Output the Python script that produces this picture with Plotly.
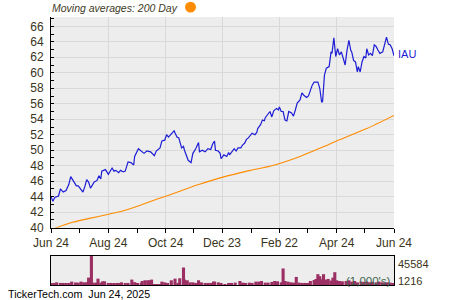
import pandas as pd
import plotly.graph_objects as go

START = pd.Timestamp("2024-06-24")

# ---- data ----
price_days = [0, 2, 4, 8, 10, 13, 16, 19, 21, 24, 27, 29, 32, 34, 36, 38, 40, 42, 44, 46,
              49, 51, 53, 54, 56, 58, 61, 63, 65, 67, 69, 72, 74, 77, 79, 82, 85, 88, 89, 93,
              96, 99, 102, 106, 110, 112, 116, 118, 121, 123, 125, 128, 131, 134, 136, 139, 141, 142, 144, 146,
              149, 151, 154, 157, 158, 161, 164, 167, 170, 172, 174, 175, 178, 180, 181, 184, 187, 189, 190, 193,
              195, 197, 199, 202, 204, 206, 208, 210, 212, 214, 217, 219, 220, 223, 225, 227, 228, 231, 233, 235,
              237, 240, 242, 243, 245, 247, 249, 251, 253, 256, 258, 260, 262, 265, 267, 269, 272, 274, 276, 278,
              280, 282, 284, 286, 288, 289, 291, 293, 296, 298, 299, 301, 303, 305, 307, 309, 312, 313, 315, 317,
              319, 320, 322, 324, 326, 327, 329, 331, 333, 335, 336, 338, 340, 342, 344, 346, 348, 350, 353, 355,
              357, 359, 361, 363, 365]
price = [44.0, 43.4, 43.9, 44.1, 45.0, 44.6, 44.8, 45.6, 46.6, 46.0, 45.4, 45.4, 44.9, 44.6, 45.3, 46.2, 45.9, 45.1, 45.5, 45.9,
         46.1, 46.7, 46.3, 47.3, 47.4, 47.5, 46.9, 47.3, 47.7, 47.3, 47.4, 47.1, 47.4, 47.2, 47.3, 48.5, 48.4, 48.1, 49.2, 50.2,
         49.9, 49.6, 49.9, 49.8, 49.3, 49.9, 50.3, 51.2, 51.3, 52.0, 51.7, 52.1, 52.5, 51.7, 51.6, 50.3, 50.5, 50.0, 49.4, 48.7,
         48.4, 49.6, 50.2, 51.0, 49.8, 50.0, 49.8, 50.2, 50.1, 50.8, 51.2, 50.0, 49.9, 49.6, 48.9, 49.4, 49.2, 49.7, 49.4, 49.9,
         50.2, 49.9, 50.3, 50.3, 50.7, 50.9, 51.4, 51.6, 51.9, 52.2, 52.0, 52.3, 52.8, 53.3, 53.9, 53.8, 54.2, 54.7, 55.0, 54.3,
         55.1, 55.4, 55.2, 55.6, 55.0, 55.0, 53.9, 53.8, 55.0, 54.8, 54.4, 55.2, 56.1, 56.5, 57.4, 57.1, 56.8, 57.0, 57.8, 58.4,
         58.8, 58.8, 58.8, 58.0, 56.2, 56.3, 59.7, 60.6, 60.8, 62.7, 62.5, 64.5, 62.1, 63.1, 62.3, 62.7, 61.2, 61.0, 62.9, 64.2,
         62.9, 62.7, 61.6, 61.4, 60.1, 60.8, 60.1, 61.4, 62.1, 61.9, 63.1, 62.3, 62.5, 62.2, 63.6, 63.4, 62.9, 62.5, 62.7, 63.8,
         64.6, 63.7, 63.6, 63.1, 62.2]

ma_days = [0, 6, 23, 41, 60, 77, 95, 113, 123, 148, 158, 182, 212, 235, 265, 291, 304, 336, 365]
ma_200 = [39.7, 40.0, 40.7, 41.2, 41.7, 42.2, 42.9, 43.7, 44.1, 45.2, 45.6, 46.5, 47.4, 48.0, 49.2, 50.5, 51.2, 52.8, 54.5]

vol_days = [0, 3, 6, 10, 13, 16, 19, 22, 26, 29, 32, 35, 38, 40, 41, 43, 45, 48, 50, 53,
            55, 57, 61, 64, 67, 70, 73, 75, 79, 82, 86, 89, 92, 96, 97, 100, 103, 105, 107, 110,
            113, 116, 118, 121, 124, 128, 132, 135, 137, 141, 142, 145, 148, 151, 154, 157, 160, 164, 167, 170,
            173, 174, 178, 181, 185, 189, 192, 196, 201, 204, 207, 211, 214, 218, 221, 224, 228, 231, 235, 238,
            241, 245, 247, 249, 252, 255, 258, 261, 264, 267, 270, 273, 276, 280, 282, 284, 286, 288, 290, 292,
            295, 298, 300, 302, 304, 307, 310, 314, 317, 320, 323, 326, 330, 333, 336, 339, 342, 346, 349, 352,
            355, 358, 361, 364]
volume_k = [2100, 2100, 4200, 3200, 3200, 2800, 3200, 5300, 4000, 3700, 5300, 4200, 4400, 11600, 10600, 45584, 3700, 3700, 10000, 3700,
            5800, 5800, 3200, 3200, 2100, 3200, 3200, 4200, 3200, 3200, 8500, 4500, 3200, 3200, 6300, 7400, 7400, 7400, 8500, 1100,
            1100, 1100, 5300, 4200, 2100, 7400, 10000, 3200, 10600, 27500, 8500, 7400, 4200, 4200, 3200, 7400, 4200, 3200, 3200, 3200,
            5300, 5300, 4200, 3200, 1500, 2100, 3200, 3700, 6300, 3700, 3200, 3700, 3200, 5300, 5300, 6300, 3700, 3700, 4800, 6300,
            5800, 4200, 26000, 6300, 5300, 4200, 3700, 12700, 3700, 3200, 3200, 2100, 6300, 7900, 9500, 17000, 13800, 9000, 17000, 8500,
            9500, 7000, 11600, 20100, 7400, 6300, 5800, 6300, 7400, 5300, 6300, 4200, 5300, 4800, 5300, 4200, 4800, 4200, 5300, 4200,
            3700, 4200, 3700, 2100]
vol_max_label = "45584"
vol_min_label = "1216"

tick_dates = ["2024-06-24", "2024-08-24", "2024-10-24", "2024-12-23", "2025-02-22", "2025-04-24", "2025-06-24"]
tick_labels = ["Jun 24", "Aug 24", "Oct 24", "Dec 23", "Feb 22", "Apr 24", "Jun 24"]
minor_dates = ["2024-07-24", "2024-09-24", "2024-11-23", "2025-01-23", "2025-03-24", "2025-05-24"]
symbol = "IAU"

# ---- build ----
def to_dates(days):
    return [START + pd.Timedelta(days=d) for d in days]

W, H = 450, 300
FONT = "Liberation Sans, Arial, sans-serif"
TXT = "#3a3420"
BLUE = "#1c1cd6"
ORANGE = "#ff8c00"
PLOT_BG = "#ededed"
GRID = "#d9d9d9"

def px(x):
    return x / W

def py(y):
    return 1 - y / H

fig = go.Figure()
fig.add_trace(go.Scatter(x=to_dates(ma_days), y=ma_200, mode="lines",
                         line=dict(color=ORANGE, width=1.1, shape="spline", smoothing=0.6),
                         xaxis="x", yaxis="y"))
fig.add_trace(go.Scatter(x=to_dates(price_days), y=price, mode="lines",
                         line=dict(color=BLUE, width=1.2), xaxis="x", yaxis="y"))
fig.add_trace(go.Bar(x=to_dates(vol_days), y=volume_k, marker=dict(color="#9b2f63", line=dict(width=0)),
                     width=3.3 * 86400000, xaxis="x2", yaxis="y2"))

xr = [tick_dates[0], tick_dates[-1]]
x_dom = [px(51), px(394)]

fig.update_layout(
    width=W, height=H, autosize=False,
    margin=dict(l=0, r=0, t=0, b=0, pad=0),
    paper_bgcolor="white", plot_bgcolor=PLOT_BG,
    showlegend=False, barmode="overlay",
    font=dict(family=FONT, size=12, color=TXT),
    xaxis=dict(domain=x_dom, range=xr, type="date", anchor="y", automargin=False,
               tickmode="array", tickvals=tick_dates, ticktext=tick_labels,
               ticks="outside", ticklen=4, tickcolor="black",
               showgrid=True, gridcolor=GRID, gridwidth=1,
               showline=True, linecolor="black", linewidth=1,
               minor=dict(tickvals=minor_dates, ticks="outside", ticklen=4, tickcolor="black", showgrid=False),
               tickfont=dict(size=12, color=TXT), zeroline=False, fixedrange=True),
    yaxis=dict(domain=[py(227.7), py(17)], range=[40, 67.2], anchor="x", automargin=False,
               tickmode="linear", tick0=40, dtick=2,
               ticks="inside", ticklen=3, tickcolor="black",
               minor=dict(dtick=1, tick0=40, ticks="inside", ticklen=3, tickcolor="black", showgrid=False),
               showgrid=True, gridcolor=GRID, gridwidth=1,
               showline=True, linecolor="black", linewidth=1,
               ticklabelstandoff=4,
               tickfont=dict(size=12, color=TXT), zeroline=False, fixedrange=True),
    xaxis2=dict(domain=x_dom, range=xr, type="date", anchor="y2", automargin=False,
                showticklabels=False, ticks="", showgrid=False,
                showline=True, linecolor="black", linewidth=1, mirror=True, zeroline=False),
    yaxis2=dict(domain=[py(285), py(256)], range=[0, 45584], anchor="x2", automargin=False,
                showticklabels=False, ticks="", showgrid=False,
                showline=True, linecolor="black", linewidth=1, mirror=True, zeroline=False),
)

annotations = [
    dict(text="<i>Moving averages: 200 Day</i>", x=px(50), y=py(8.5), xanchor="left", yanchor="middle",
         font=dict(size=10.5, color="#3e3a26")),
    dict(text=symbol, x=px(396), y=py(54.5), xanchor="left", yanchor="middle",
         font=dict(size=11, color=BLUE)),
    dict(text=vol_max_label, x=px(396), y=py(263.5), xanchor="left", yanchor="middle",
         font=dict(size=11, color=TXT)),
    dict(text=vol_min_label, x=px(396), y=py(281), xanchor="left", yanchor="middle",
         font=dict(size=11, color=TXT)),
    dict(text="(1,000's)", x=px(393), y=py(281), xanchor="right", yanchor="middle",
         font=dict(size=11.5, color="rgb(62,100,78)")),
    dict(text="TickerTech.com&nbsp; Jun 24, 2025", x=px(6), y=py(294), xanchor="left", yanchor="middle",
         font=dict(size=10.7, color="black")),
]
for a in annotations:
    a.update(xref="paper", yref="paper", showarrow=False)
fig.update_layout(annotations=annotations)

fig.add_shape(type="circle", xref="paper", yref="paper",
              x0=px(185), x1=px(196), y0=py(12.5), y1=py(1.8),
              fillcolor=ORANGE, line=dict(width=0))

fig.write_html("out.html")
